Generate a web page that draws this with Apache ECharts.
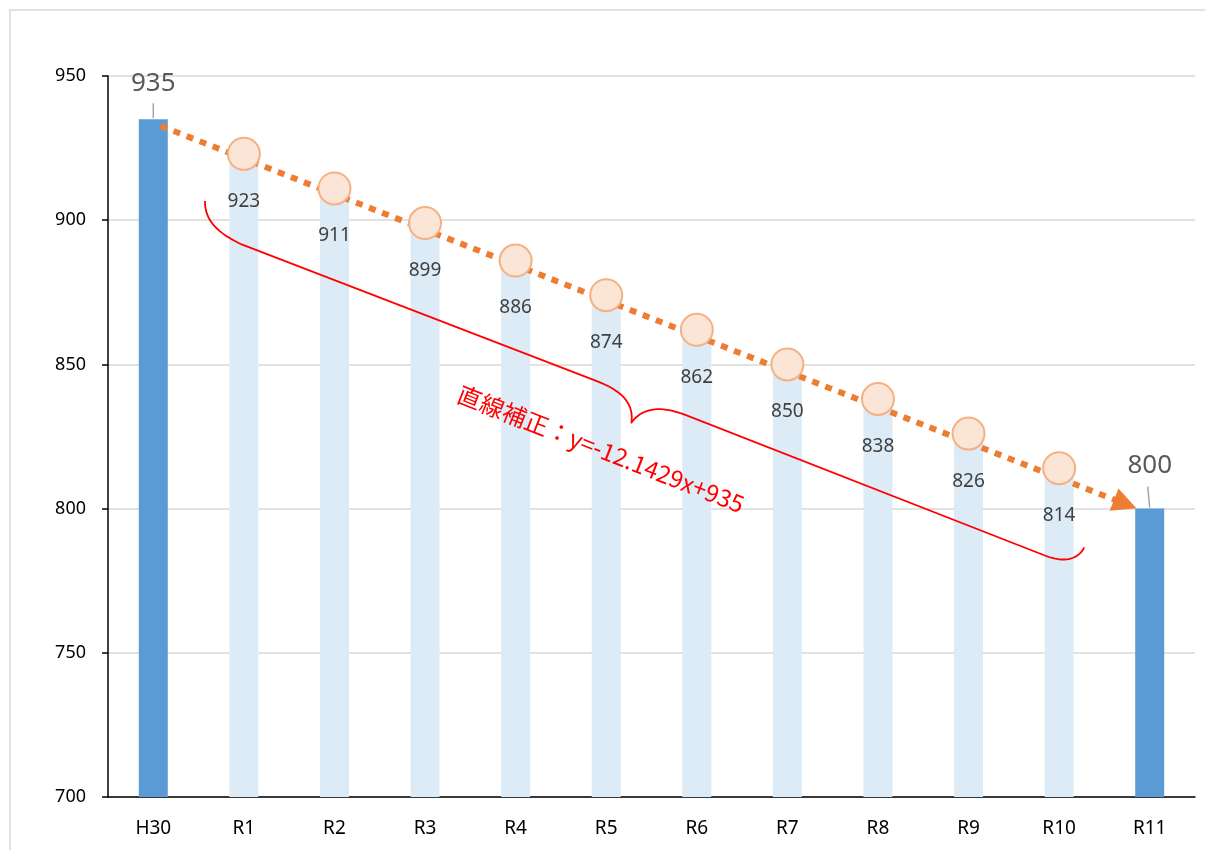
<!DOCTYPE html>
<html><head><meta charset="utf-8">
<script src="https://cdn.jsdelivr.net/npm/echarts@6/dist/echarts.min.js"></script>
<style>html,body{margin:0;padding:0;background:#fff}#c{width:1205px;height:850px}</style>
</head><body><div id="c"></div>
<script>
// ---- data ----
const categories = ['H30','R1','R2','R3','R4','R5','R6','R7','R8','R9','R10','R11'];
const values = [935, 923, 911, 899, 886, 874, 862, 850, 838, 826, 814, 800];
const endpointIdx = [0, 11];
const yMin = 700, yMax = 950, yInterval = 50;
const trendStart = [0.08, 932.7];   // [category position, value]
const trendEnd = [10.73, 801.6];
const trendText = '直線補正：y=-12.1429x+935';

// ---- styles ----
const DARK = '#5B9BD5', LIGHT = '#DDEBF7', ORANGE = '#ED7D31';
const FONT = '"Noto Sans", "Noto Sans CJK JP", sans-serif';

const barData = values.map((v, i) => {
  const isEnd = endpointIdx.includes(i);
  return {
    value: v,
    itemStyle: { color: isEnd ? DARK : LIGHT },
    label: isEnd
      ? { show: true, position: 'top', distance: i === 0 ? 23 : 30, fontSize: 26, color: '#595959', fontFamily: FONT }
      : { show: true, position: 'insideTop', distance: 38, fontSize: 19, color: '#404040', fontFamily: FONT }
  };
});
const dotData = values.map((v, i) => endpointIdx.includes(i) ? '-' : v);

const chart = echarts.init(document.getElementById('c'), null, { renderer: 'canvas' });
chart.setOption({
  animation: false,
  backgroundColor: '#fff',
  grid: { left: 108, right: 10, top: 76, bottom: 53, containLabel: false },
  xAxis: [
    {
      type: 'category', data: categories,
      axisLine: { onZero: false, lineStyle: { color: '#000', width: 1.5 } },
      axisTick: { show: false },
      axisLabel: { color: '#000', fontSize: 19, margin: 22, fontFamily: FONT }
    },
    { type: 'value', min: -0.5, max: 11.5, show: false, axisLine: { onZero: false } }
  ],
  yAxis: {
    type: 'value', min: yMin, max: yMax, interval: yInterval,
    axisLine: { show: true, onZero: false, lineStyle: { color: '#000', width: 1.5 } },
    axisTick: { show: true, length: 6, lineStyle: { color: '#000', width: 1.5 } },
    axisLabel: { color: '#000', fontSize: 18, margin: 22, fontFamily: FONT },
    splitLine: { lineStyle: { color: '#D9D9D9', width: 1.5 } }
  },
  series: [
    {
      type: 'bar', data: barData, barWidth: 29, z: 2,
      labelLayout: { hideOverlap: false }
    },
    {
      type: 'line', xAxisIndex: 1, data: [], z: 3, silent: true,
      markLine: {
        silent: true, animation: false,
        symbol: ['none', 'triangle'], symbolSize: 24,
        label: { show: false },
        lineStyle: { color: ORANGE, width: 6, type: [7, 7] },
        itemStyle: { color: ORANGE },
        data: [[{ coord: trendStart }, { coord: trendEnd }]]
      }
    },
    {
      type: 'scatter', data: dotData, symbol: 'circle', symbolSize: 32, z: 5,
      itemStyle: { color: '#FBE5D6', borderColor: '#F4B183', borderWidth: 2, opacity: 1 }
    }
  ]
});

// annotations: leader lines, brace, equation text
const graphics = [];
graphics.push({ type: 'rect', shape: { x: 10, y: 10, width: 1210, height: 860 },
  style: { fill: 'none', stroke: '#D9D9D9', lineWidth: 1.5 }, silent: true, z: 0 });
endpointIdx.forEach((i, k) => {
  const p = chart.convertToPixel({ xAxisIndex: 0, yAxisIndex: 0 }, [i, values[i]]);
  const len = k === 0 ? 15 : 21;
  graphics.push({ type: 'line', shape: { x1: p[0], y1: p[1] - 1, x2: p[0] - (k === 0 ? 0 : 2), y2: p[1] - 1 - len },
    style: { stroke: '#A6A6A6', lineWidth: 1.5 }, silent: true, z: 10 });
});
// brace in local frame (along trend), sampled to a polyline in screen space
const A = [205, 201], ang = 21.5 * Math.PI / 180;
const ux = Math.cos(ang), uy = Math.sin(ang), nx = -Math.sin(ang), ny = Math.cos(ang);
const T = (u, n) => [A[0] + u * ux + n * nx, A[1] + u * uy + n * ny];
const segs = [
  ['C', [0, 0], [6, 16], [20, 25], [50, 27]],
  ['L', [50, 27], [432, 24]],
  ['C', [432, 24], [462, 24], [474, 34], [478, 50]],
  ['C', [478, 50], [482, 34], [496, 23], [526, 23]],
  ['L', [526, 23], [912, 22]],
  ['C', [912, 22], [934, 22], [944, 12], [945, 0]]
];
const pts = [];
segs.forEach(s => {
  if (s[0] === 'L') { pts.push(T(...s[1]), T(...s[2])); return; }
  const [p0, p1, p2, p3] = s.slice(1);
  for (let k = 0; k <= 20; k++) {
    const t = k / 20, m = 1 - t;
    const u = m*m*m*p0[0] + 3*m*m*t*p1[0] + 3*m*t*t*p2[0] + t*t*t*p3[0];
    const n = m*m*m*p0[1] + 3*m*m*t*p1[1] + 3*m*t*t*p2[1] + t*t*t*p3[1];
    pts.push(T(u, n));
  }
});
graphics.push({ type: 'polyline', shape: { points: pts },
  style: { fill: null, stroke: '#FF0000', lineWidth: 1.8, lineJoin: 'round' }, silent: true, z: 10 });
graphics.push({ type: 'text', x: 601, y: 449, rotation: -ang,
  style: { text: trendText, fill: '#FF0000', font: '24px "Noto Sans CJK JP", "Noto Sans", sans-serif', align: 'center', verticalAlign: 'middle' },
  silent: true, z: 10 });
chart.setOption({ graphic: graphics });
</script>
</body></html>
